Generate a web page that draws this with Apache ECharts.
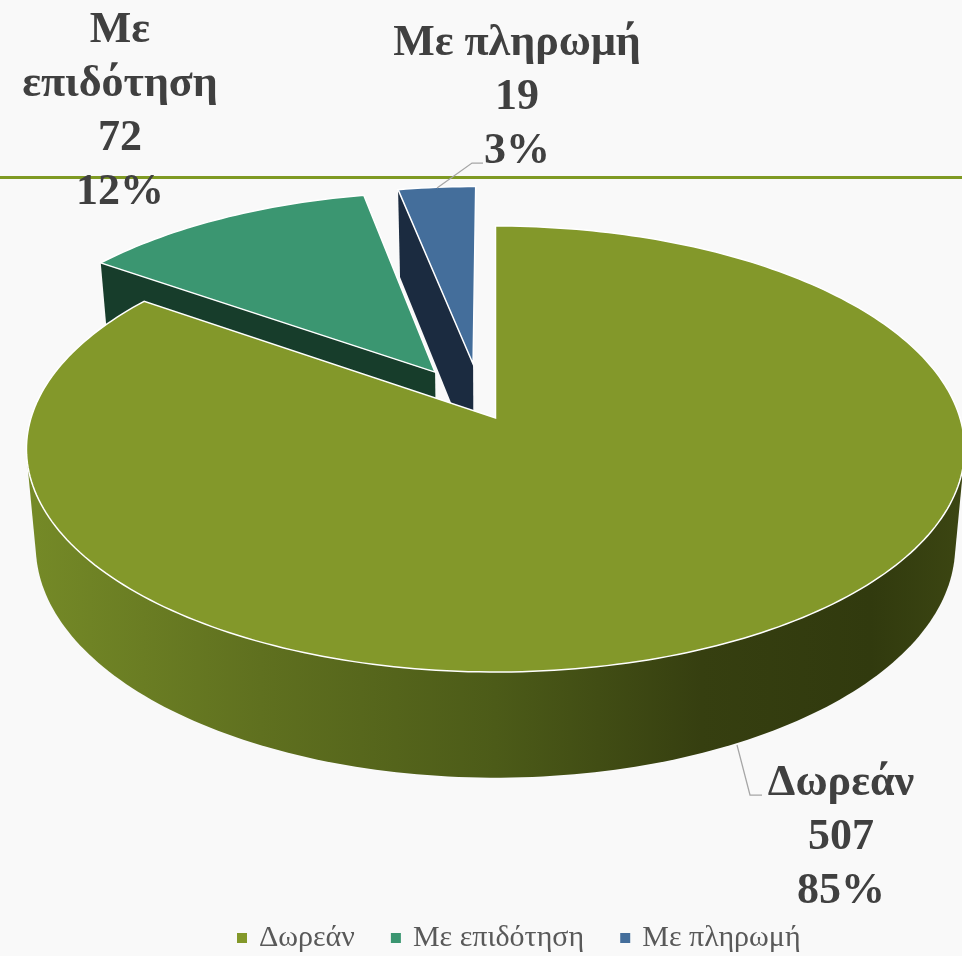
<!DOCTYPE html>
<html><head><meta charset="utf-8">
<style>html,body{margin:0;padding:0;background:#f9f9f9}#c{width:962px;height:956px}</style>
<script src="https://cdn.jsdelivr.net/npm/echarts@6/dist/echarts.min.js"></script>
</head><body><div id="c"></div>
<script>
const categories = ['Δωρεάν', 'Με επιδότηση', 'Με πληρωμή'];
const values = [507, 72, 19];
const topColors = ['#83982a', '#3b9671', '#446e9b'];
const sideColors = ['#83982a', '#173d2b', '#1b2b40'];

// Layout only: projection of the unit disc to the screen, explosion, label placement
const view = { cx: 495.5, k: 0.139, rx: 464.5, ry: 218.7 };
const topPlane = { sx: 1, sy: 1, ay: 418 };
const basePlane = { sx: 0.98, sy: 1.038, ay: 514 };
const explode = [[0, 0], [-0.134, 0.216], [-0.05, 0.256]];
const radius = [1, 0.99, 0.985];
const labelLayout = [
  { text: 'Δωρεάν', x: 841, y: 757, leader: [[737, 745], [750, 795], [762, 795]] },
  { text: 'Με\nεπιδότηση', x: 120, y: 4 },
  { text: 'Με πληρωμή', x: 517, y: 17, leader: [[437, 188], [472, 163], [483, 163]] }
];
const z = [4, 3, 2];

const total = values.reduce((a, b) => a + b, 0);
const starts = values.map((_, i) => values.slice(0, i).reduce((a, b) => a + b, 0) / total * 2 * Math.PI);
const ends = values.map((v, i) => starts[i] + v / total * 2 * Math.PI);

function proj(x, y, p) {
  const w = 1 + view.k * y;
  return [view.cx + p.sx * view.rx * x / w, p.ay - p.sy * view.ry * y / w];
}
function rim(i, p, a0, a1) {
  const s = a0 === undefined ? starts[i] : a0, e = a1 === undefined ? ends[i] : a1;
  const pts = [], n = Math.ceil((e - s) / 0.02), r = radius[i];
  for (let j = 0; j <= n; j++) {
    const a = s + (e - s) * j / n;
    pts.push(proj(explode[i][0] + r * Math.sin(a), explode[i][1] + r * Math.cos(a), p));
  }
  return pts;
}
const apex = (i, p) => proj(explode[i][0], explode[i][1], p);

function hull(points) {
  const pts = points.slice().sort((a, b) => a[0] - b[0] || a[1] - b[1]);
  const cross = (o, a, b) => (a[0] - o[0]) * (b[1] - o[1]) - (a[1] - o[1]) * (b[0] - o[0]);
  const half = list => {
    const h = [];
    list.forEach(p => {
      while (h.length >= 2 && cross(h[h.length - 2], h[h.length - 1], p) <= 0) h.pop();
      h.push(p);
    });
    h.pop();
    return h;
  };
  return half(pts).concat(half(pts.slice().reverse()));
}

const sideFill = new echarts.graphic.LinearGradient(0, 0, 1, 0, [
  { offset: 0, color: '#758a27' }, { offset: 0.25, color: '#5f701f' }, { offset: 0.5, color: '#4c5b18' },
  { offset: 0.72, color: '#363f10' }, { offset: 0.9, color: '#313a0e' }, { offset: 1, color: '#3c4612' }
]);

function renderSlice(i) {
  return function (params, api) {
    const children = [];
    if (i === 0) {
      // outer wall: everything between the front half of the top rim and of the base rim
      const front = hull(rim(0, topPlane, Math.PI * 0.54, Math.PI * 1.46).concat(rim(0, basePlane, Math.PI * 0.54, Math.PI * 1.46)));
      children.push({ type: 'polygon', shape: { points: front }, style: { fill: sideFill } });
    } else {
      // visible radial wall on the start edge of the slice
      const t0 = rim(i, topPlane)[0], b0 = rim(i, basePlane)[0];
      children.push({ type: 'polygon', shape: { points: [t0, apex(i, topPlane), apex(i, basePlane), b0] },
        style: { fill: sideColors[i] } });
    }
    children.push({ type: 'polygon', shape: { points: [apex(i, topPlane)].concat(rim(i, topPlane)) },
      style: { fill: topColors[i], stroke: '#ffffff', lineWidth: 1.5, lineJoin: 'miter' } });
    const l = labelLayout[i];
    if (l.leader) {
      children.push({ type: 'polyline', shape: { points: l.leader }, style: { fill: 'none', stroke: '#a6a6a6', lineWidth: 1.25 } });
    }
    const v = api.value(0);
    children.push({ type: 'text', x: l.x, y: l.y, style: {
      text: l.text + '\n' + v + '\n' + Math.round(v / total * 100) + '%',
      fill: '#404040', font: 'bold 44px "Liberation Serif"', align: 'center', verticalAlign: 'top', lineHeight: 54
    } });
    return { type: 'group', children };
  };
}

const chart = echarts.init(document.getElementById('c'));
chart.setOption({
  animation: false,
  backgroundColor: '#f9f9f9',
  graphic: [{ type: 'rect', z: 0, shape: { x: 0, y: 176, width: 962, height: 3 }, style: { fill: '#7f9a23' } }],
  legend: {
    data: categories, left: 232, top: 918, icon: 'rect', itemWidth: 10, itemHeight: 10, itemGap: 36,
    textStyle: { fontFamily: 'Liberation Serif', fontSize: 30, color: '#595959', padding: [0, 0, 0, 7] }
  },
  series: categories.map((name, i) => ({
    type: 'custom', name, coordinateSystem: 'none', z: z[i], clip: false,
    itemStyle: { color: topColors[i] },
    data: [{ name, value: [values[i]] }],
    renderItem: renderSlice(i)
  }))
});
</script></body></html>
